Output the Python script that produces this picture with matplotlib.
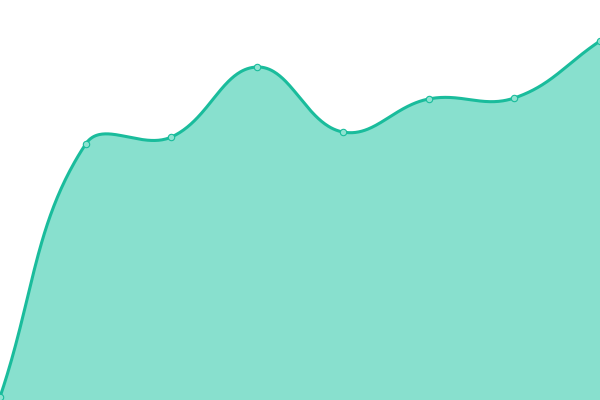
import numpy as np
import matplotlib
matplotlib.use("Agg")
import matplotlib.pyplot as plt

categories = ["1", "2", "3", "4", "5", "6", "7", "8"]
values = [3, 256, 263, 333, 268, 301, 302, 359]

LINE = "#1abc9c"
FILL = "#88e0ce"
MARKER_FACE = "#8fe3d1"
TENSION = 0.4

W, H = 600, 400
YMAX = 400


def spline(xs, ys, t=TENSION, n=80):
    """Chart.js-style spline, computed in pixel space."""
    kx = W / (len(xs) - 1)
    ky = H / YMAX
    P = np.column_stack([np.asarray(xs, float) * kx, np.asarray(ys, float) * ky])
    m = len(P)
    cps_prev, cps_next = [], []
    for i in range(m):
        prev = P[i - 1] if i > 0 else P[i]
        nxt = P[i + 1] if i < m - 1 else P[i]
        d01 = np.hypot(*(P[i] - prev))
        d12 = np.hypot(*(nxt - P[i]))
        tot = d01 + d12
        s01 = d01 / tot if tot else 0
        s12 = d12 / tot if tot else 0
        cps_prev.append(P[i] - t * s01 * (nxt - prev))
        cps_next.append(P[i] + t * s12 * (nxt - prev))
    out = []
    tt = np.linspace(0, 1, n)[:, None]
    for i in range(m - 1):
        p0, c1, c2, p1 = P[i], cps_next[i], cps_prev[i + 1], P[i + 1]
        b = (1 - tt) ** 3 * p0 + 3 * (1 - tt) ** 2 * tt * c1 + 3 * (1 - tt) * tt ** 2 * c2 + tt ** 3 * p1
        out.append(b)
    B = np.vstack(out)
    return B[:, 0] / kx, B[:, 1] / ky


x = np.arange(len(categories))
sx, sy = spline(x, values)

fig = plt.figure(figsize=(6, 4), dpi=100)
ax = fig.add_axes([0, 0, 1, 1])
ax.fill_between(sx, sy, 0, color=FILL, linewidth=0)
ax.plot(sx, sy, color=LINE, lw=2.2, solid_capstyle="round")
ax.plot(x, values, "o", ms=4.6, mfc=MARKER_FACE, mec=LINE, mew=0.8, clip_on=False)
ax.set_xlim(0, len(categories) - 1)
ax.set_ylim(0, YMAX)
ax.axis("off")
fig.savefig("out.png", dpi=100)
